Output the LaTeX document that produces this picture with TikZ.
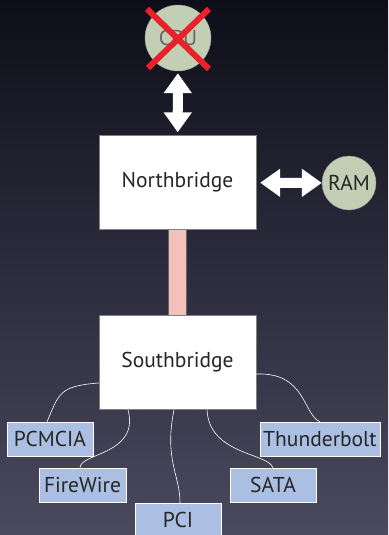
\documentclass[tikz,border=0pt]{standalone}
\usepackage{fontspec}
\setmainfont{PT Sans}
\usetikzlibrary{arrows.meta, calc}
\definecolor{bgtop}{HTML}{0E0E1A}
\definecolor{bgbot}{HTML}{4A495E}
\definecolor{chipgreen}{HTML}{C3CFB5}
\definecolor{portblue}{HTML}{AABFE1}
\definecolor{buspink}{HTML}{F2C1B9}
\definecolor{textgray}{HTML}{262626}
\definecolor{crossred}{HTML}{E8212A}

\begin{document}
\begin{tikzpicture}[
    x=1pt, y=-1pt,
    every node/.style={font=\fontsize{21.5}{25}\selectfont, text=textgray},
    chip/.style={circle, draw=black!40, fill=chipgreen, inner sep=0pt},
    bridge/.style={draw=black!50, fill=white, minimum width=157pt, minimum height=94pt},
    port/.style={draw=white, fill=portblue, minimum height=34pt, inner sep=0pt},
    link/.style={white, line width=10pt, {Triangle[width=27pt,length=20pt]}-{Triangle[width=27pt,length=20pt]}},
    wire/.style={white, line width=0.6pt}
]
    \shade[top color=bgtop, bottom color=bgbot] (0,0) rectangle (388,535);
    \useasboundingbox (0,0) rectangle (388,535);

    \node[chip, minimum size=66pt] (cpu) at (178,38) {\color{black!60}CPU};
    \node[chip, minimum size=54pt] (ram) at (349,183) {RAM};
    \node[bridge] (nb) at (177.5,182.5) {\raisebox{-3pt}{Northbridge}};
    \node[bridge] (sb) at (177.5,362.5) {\raisebox{-3pt}{Southbridge}};

    % the processor is struck out
    \draw[crossred, line width=6pt] ($(cpu)+(-31,-29)$) -- ($(cpu)+(31,31)$);
    \draw[crossred, line width=6pt] ($(cpu)+(31,-29)$) -- ($(cpu)+(-30,30)$);

    \draw[link, shorten <=2pt, shorten >=3pt] (cpu) -- (nb);
    \draw[link, shorten <=4pt] (nb) -- (ram);
    \draw[draw=black!60, line width=0.6pt, double=buspink, double distance=17pt] (nb.south) -- (sb.north);

    \node[port, minimum width=86pt] (pcmcia) at (50,439) {PCMCIA};
    \node[port, minimum width=87pt] (firewire) at (82.5,485) {FireWire};
    \node[port, minimum width=86pt] (pci) at (178,520) {PCI};
    \node[port, minimum width=86pt] (sata) at (273,485) {SATA};
    \node[port, minimum width=120pt] (thunder) at (320,439) {Thunderbolt};

    \draw[wire] ($(sb.west)+(0,20.5)$) .. controls +(-40,3) and +(12,-28) .. ($(pcmcia.north)+(-3,0)$);
    \draw[wire] ($(sb.south)+(-49.5,0)$) .. controls +(12,45) and +(0,-15) .. ($(firewire.north)+(-2.5,0)$);
    \draw[wire] ($(sb.south)+(-3.5,0)$) .. controls +(-10,50) and +(0,-28) .. ($(pci.north)+(2,0)$);
    \draw[wire] ($(sb.south)+(29.5,0)$) .. controls +(2,45) and +(-5,-15) .. (sata.north);
    \draw[wire] ($(sb.east)+(0,11.5)$) .. controls +(50,-2) and +(-17,-7) .. (thunder.north);
\end{tikzpicture}
\end{document}
